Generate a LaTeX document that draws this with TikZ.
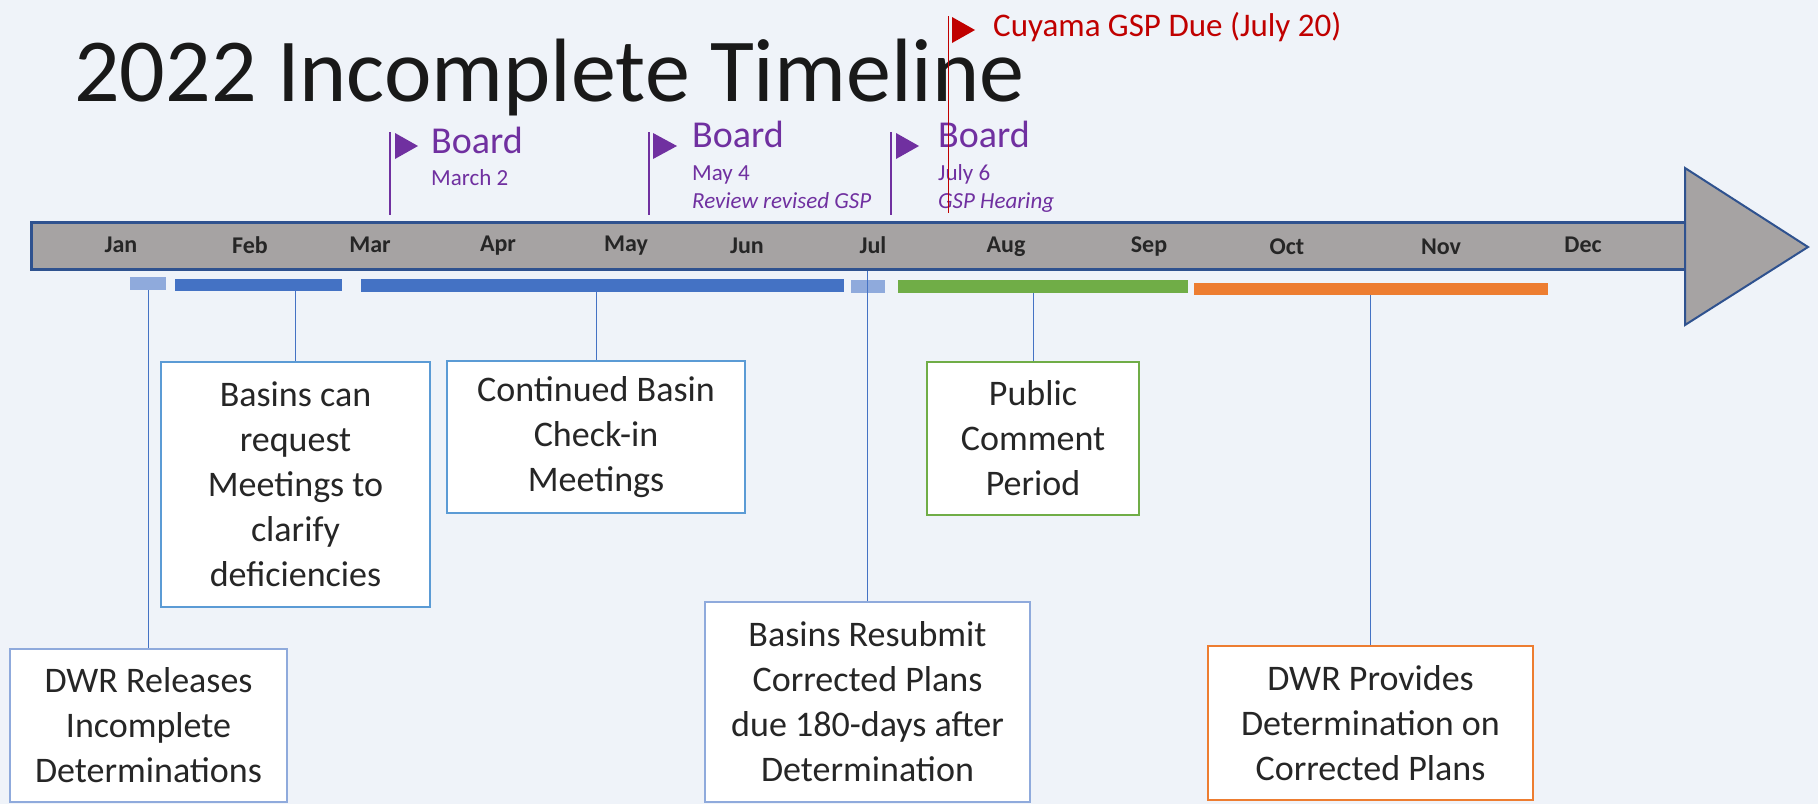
\documentclass[tikz,border=0pt]{standalone}
\usepackage{fontspec}
\setmainfont{Carlito}
\definecolor{bgc}{RGB}{239,243,249}
\definecolor{barc}{RGB}{166,163,163}
\definecolor{barl}{RGB}{47,82,143}
\definecolor{lblue}{RGB}{143,170,220}
\definecolor{mblue}{RGB}{68,114,196}
\definecolor{sblue}{RGB}{91,155,213}
\definecolor{grn}{RGB}{112,173,71}
\definecolor{org}{RGB}{237,125,49}
\definecolor{purp}{RGB}{112,48,160}
\definecolor{dred}{RGB}{192,0,0}
\tikzset{
  month/.style={font=\fontsize{24}{24}\selectfont\bfseries, text=black!85, inner sep=0},
  seg/.style={inner sep=0, minimum height=13pt},
  box/.style={draw, fill=white, line width=2.5pt, align=center, inner sep=0,
    font=\fontsize{36}{45}\selectfont, text=black!85},
  link/.style={mblue, line width=1pt},
  brd/.style={anchor=base west, inner sep=0, text=purp, text height=25pt,
    font=\fontsize{38}{38}\selectfont},
  sub/.style={anchor=base west, inner sep=0, text=purp, font=\fontsize{23}{23}\selectfont}
}
\begin{document}
\begin{tikzpicture}[x=1pt,y=-1pt]
      \fill[bgc] (0,0) rectangle (1818,804);
\useasboundingbox (0,0) rectangle (1818,804);

\node[anchor=base west, inner sep=0, text=black!90, text height=64pt, text depth=0pt,
  font=\fontsize{90}{90}\selectfont] (t0) at (74,101) {2022 Incomplete Timeline};

\node[draw=barl, fill=barc, line width=3pt, inner sep=0, minimum width=1654pt, minimum height=47pt] (tl) at (858,245.5) {};
\draw[draw=barl, fill=barc, line width=2pt] (1685,168) -- (1808,247) -- (1685,325) -- cycle;

\node[month] (m1) at (121,245) {Jan};
\node[month] (m2) at (250,245) {Feb};
\node[month] (m3) at (370,245) {Mar};
\node[month] (m4) at (498,246) {Apr};
\node[month] (m5) at (626,246) {May};
\node[month] (m6) at (747,246) {Jun};
\node[month] (m7) at (873,245) {Jul};
\node[month] (m8) at (1006,247) {Aug};
\node[month] (m9) at (1149,247) {Sep};
\node[month] (m10) at (1287,247) {Oct};
\node[month] (m11) at (1441,247) {Nov};
\node[month] (m12) at (1583,245) {Dec};

\node[seg, fill=lblue, minimum width=36pt] (c0) at (148,283.5) {};
\node[seg, fill=mblue, minimum width=167pt, minimum height=12pt] (c1) at (258.5,285) {};
\node[seg, fill=mblue, minimum width=483pt] (c2) at (602.5,285.5) {};
\node[seg, fill=lblue, minimum width=34pt] (c3) at (868,286.5) {};
\node[seg, fill=grn, minimum width=290pt] (c4) at (1043,286.5) {};
\node[seg, fill=org, minimum width=354pt, minimum height=12pt] (c5) at (1371,289) {};

\node[box, draw=lblue, minimum width=277pt, minimum height=153pt] (n0) at (148.5,725.5) {DWR Releases\\Incomplete\\Determinations};
\node[box, draw=sblue, minimum width=269pt, minimum height=245pt] (n1) at (295.5,484.5) {Basins can\\request\\Meetings to\\clarify\\deficiencies};
\node[box, draw=sblue, minimum width=298pt, minimum height=152pt] (n2) at (596,437) {Continued Basin\\Check-in\\Meetings};
\node[box, draw=lblue, minimum width=325pt, minimum height=200pt] (n3) at (867.5,702) {Basins Resubmit\\Corrected Plans\\due 180-days after\\Determination};
\node[box, draw=grn, minimum width=212pt, minimum height=153pt] (n4) at (1033,438.5) {Public\\Comment\\Period};
\node[box, draw=org, minimum width=325pt, minimum height=154pt] (n5) at (1370.5,723) {DWR Provides\\Determination on\\Corrected Plans};

\draw[link] (n0.north) -- (n0.north |- c0.south);
\draw[link] (n1.north) -- (n1.north |- c1.south);
\draw[link] (n2.north) -- (n2.north |- c2.south);
\draw[link] (n3.north) -- (n3.north |- tl.south);
\draw[link] (n4.north) -- (n4.north |- c4.south);
\draw[link] (n5.north) -- (n5.north |- c5.south);

\draw[purp, line width=1.3pt] (390,132) -- (390,215);
\fill[purp] (395,133) -- (418,146) -- (395,159) -- cycle;
\node[brd] (b1) at (431,153) {Board};
\node[sub] (d1) at (431,185) {March 2};

\draw[purp, line width=1.3pt] (649,132) -- (649,215);
\fill[purp] (653,133) -- (677,146) -- (653,159) -- cycle;
\node[brd] (b2) at (692,147) {Board};
\node[sub] (d2) at (692,180) {May 4};
\node[sub, font=\fontsize{23}{23}\selectfont\itshape] (e2) at (692,208) {Review revised GSP};

\draw[purp, line width=1.3pt] (891,132) -- (891,215);
\fill[purp] (896,133) -- (919,146) -- (896,159) -- cycle;
\node[brd] (b3) at (938,147) {Board};
\node[sub] (d3) at (938,180) {July 6};
\node[sub, font=\fontsize{23}{23}\selectfont\itshape] (e3) at (938,208) {GSP Hearing};

\draw[dred, line width=1pt] (948,16) -- (948,213);
\fill[dred] (952,17) -- (975,30) -- (952,43) -- cycle;
\node[anchor=base west, inner sep=0, text=dred, text depth=0pt,
  font=\fontsize{33}{33}\selectfont] (r1) at (993,36) {Cuyama GSP Due (July 20)};

    \end{tikzpicture}
\end{document}
